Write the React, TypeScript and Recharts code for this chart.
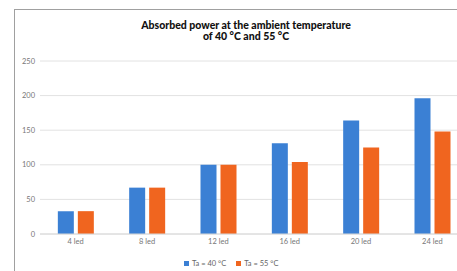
import React from 'react';
import { BarChart, Bar, XAxis, YAxis, CartesianGrid } from 'recharts';

const categories = ['4 led', '8 led', '12 led', '16 led', '20 led', '24 led'];
const ta40 = [33, 67, 100, 131, 164, 196];
const ta55 = [33, 67, 100, 104, 125, 148];
const yTicks = [0, 50, 100, 150, 200, 250];

const BLUE = '#3b80d4';
const ORANGE = '#f0651f';

const data = categories.map((name, i) => ({ name, ta40: ta40[i], ta55: ta55[i] }));

const tickStyle = { fontSize: 7.5, fill: '#777', fontFamily: 'Lato, sans-serif' };

const LegendItem = ({ color, label }: any) => (
  <span style={{ display: 'inline-flex', alignItems: 'center', marginRight: 10 }}>
    <span style={{ width: 5, height: 5, background: color, marginRight: 3, display: 'inline-block' }} />
    {label}
  </span>
);

export default function App() {
  return (
    <div style={{ position: 'fixed', left: 0, top: 0, width: 457, height: 271, overflow: 'hidden', background: '#fff' }}>
      <div
        style={{
          position: 'absolute', left: 14, top: 9, width: 500, height: 300,
          borderLeft: '1px solid #a0a0a0', borderTop: '1px solid #a0a0a0',
        }}
      />
      <div
        style={{
          position: 'absolute', left: 100, width: 292, top: 20, textAlign: 'center',
          fontFamily: 'Lato, sans-serif', fontWeight: 900, fontSize: 10.5, lineHeight: '11px', color: '#111',
        }}
      >
        Absorbed power at the ambient temperature
        <br />
        of 40 °C and 55 °C
      </div>
      <div style={{ position: 'absolute', left: 0, top: 0 }}>
        <BarChart
          width={468}
          height={271}
          data={data}
          margin={{ top: 61, right: 0, bottom: 21, left: 0 }}
          barCategoryGap="25%"
          barGap={4}
        >
          <CartesianGrid vertical={false} stroke="#e2e2e2" />
          <XAxis
            dataKey="name"
            height={16}
            tickLine={false}
            axisLine={{ stroke: '#d8d8d8' }}
            tickSize={0}
            tickMargin={5}
            tick={tickStyle}
          />
          <YAxis
            width={40}
            domain={[0, 250]}
            ticks={yTicks}
            tickLine={false}
            axisLine={false}
            tickSize={0}
            tickMargin={5}
            tick={tickStyle}
          />
          <Bar dataKey="ta40" fill={BLUE} isAnimationActive={false} />
          <Bar dataKey="ta55" fill={ORANGE} isAnimationActive={false} />
        </BarChart>
      </div>
      <div
        style={{
          position: 'absolute', left: 184, top: 259, fontSize: 7.5, color: '#666',
          fontFamily: 'Lato, sans-serif', whiteSpace: 'nowrap',
        }}
      >
        <LegendItem color={BLUE} label="Ta = 40 °C" />
        <LegendItem color={ORANGE} label="Ta = 55 °C" />
      </div>
    </div>
  );
}
